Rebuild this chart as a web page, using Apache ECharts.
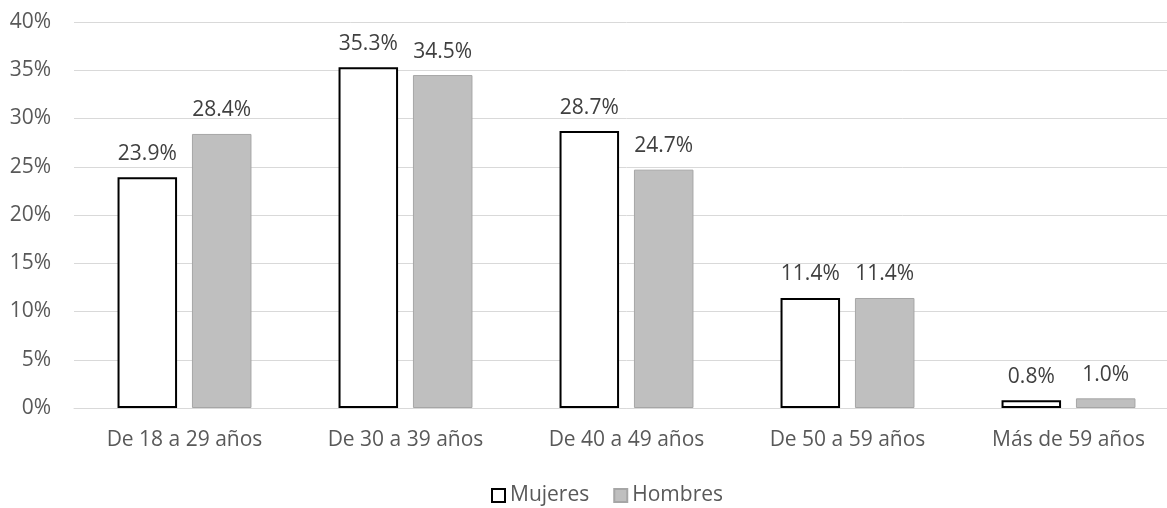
<!DOCTYPE html>
<html><head><meta charset="utf-8">
<script src="https://cdn.jsdelivr.net/npm/echarts@6/dist/echarts.min.js"></script>
<style>html,body{margin:0;padding:0;background:#fff;overflow:hidden;width:1167px;height:508px}#c{width:1179px;height:508px}</style>
</head><body><div id="c"></div>
<script>
var categories = ['De 18 a 29 años','De 30 a 39 años','De 40 a 49 años','De 50 a 59 años','Más de 59 años'];
var mujeres = [23.9, 35.3, 28.7, 11.4, 0.8];
var hombres = [28.4, 34.5, 24.7, 11.4, 1.0];
var yTicks = [0,5,10,15,20,25,30,35,40];
var font = '"Open Sans", "Liberation Sans", sans-serif';
var fs = 21;
var chart = echarts.init(document.getElementById('c'));
chart.setOption({
  animation:false,
  textStyle:{fontFamily:font},
  grid:{left:74,right:0,top:22,bottom:100,containLabel:false},
  legend:{top:480,left:486,icon:'rect',itemWidth:13,itemHeight:13,itemGap:24,
    textStyle:{color:'#595959',fontSize:fs,fontFamily:font},
    data:['Mujeres','Hombres']},
  xAxis:{type:'category',data:categories,
    axisLine:{lineStyle:{color:'#d9d9d9',width:1}},axisTick:{show:false},
    axisLabel:{color:'#595959',fontSize:fs,margin:22,fontFamily:font}},
  yAxis:{type:'value',min:yTicks[0],max:yTicks[yTicks.length-1],interval:5,
    axisLine:{show:false},axisTick:{show:false},
    splitLine:{lineStyle:{color:'#d9d9d9',width:1}},
    axisLabel:{color:'#595959',fontSize:fs,margin:23,formatter:function(v){return v+'%';},fontFamily:font}},
  series:[
    {name:'Mujeres',type:'bar',data:mujeres,barGap:'25%',barCategoryGap:'39.4%',
     itemStyle:{color:'#ffffff',borderColor:'#000000',borderWidth:2},
     label:{show:true,position:'top',distance:13,color:'#404040',fontSize:fs,fontFamily:font,
       formatter:function(p){return p.value.toFixed(1)+'%';}}},
    {name:'Hombres',type:'bar',data:hombres,
     itemStyle:{color:'#bfbfbf',borderColor:'#a6a6a6',borderWidth:1},
     label:{show:true,position:'top',distance:13,color:'#404040',fontSize:fs,fontFamily:font,
       formatter:function(p){return p.value.toFixed(1)+'%';}}}
  ]
});
</script></body></html>
